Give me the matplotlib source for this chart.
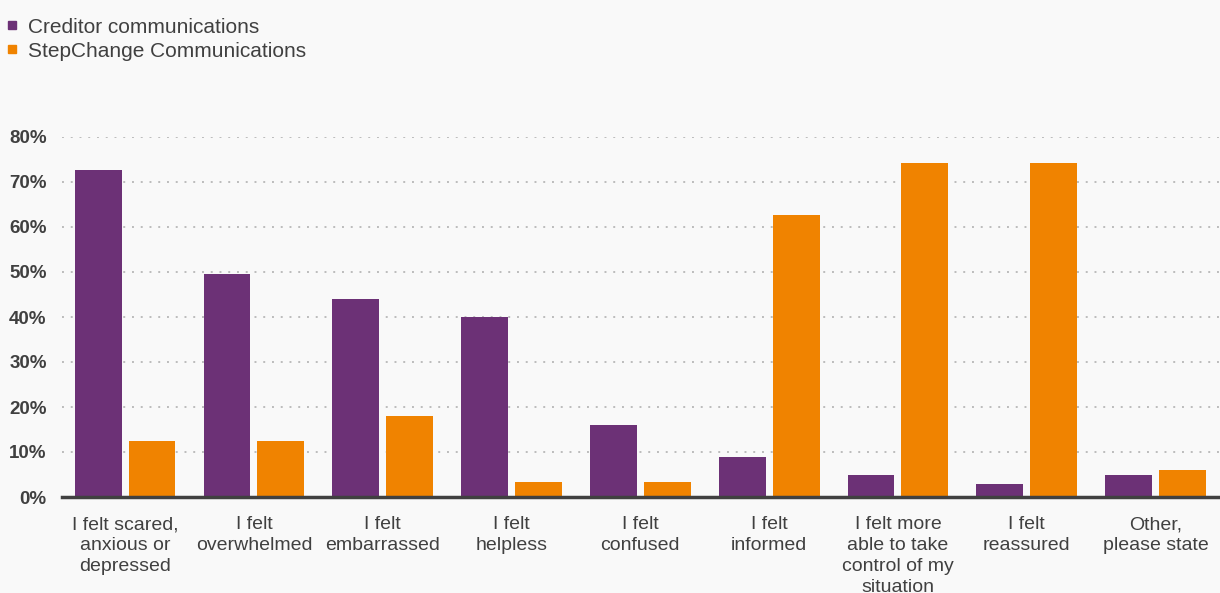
import matplotlib.pyplot as plt
import numpy as np
from matplotlib.lines import Line2D

plt.rcParams["font.family"] = ["Liberation Sans", "DejaVu Sans"]

categories = [
    "I felt scared,\nanxious or\ndepressed",
    "I felt\noverwhelmed",
    "I felt\nembarrassed",
    "I felt\nhelpless",
    "I felt\nconfused",
    "I felt\ninformed",
    "I felt more\nable to take\ncontrol of my\nsituation",
    "I felt\nreassured",
    "Other,\nplease state",
]
creditor = [72.6, 49.5, 44.0, 40.0, 16.0, 8.8, 4.8, 3.0, 4.8]
stepchange = [12.4, 12.4, 18.0, 3.3, 3.3, 62.6, 74.2, 74.2, 5.9]
series_names = ["Creditor communications", "StepChange Communications"]
yticks = [0, 10, 20, 30, 40, 50, 60, 70, 80]

purple = "#6c3176"
orange = "#f08300"
text_col = "#404040"
bg = "#f9f9f9"

fig = plt.figure(figsize=(12.2, 5.93), dpi=100, facecolor=bg)
ax = fig.add_axes([62 / 1220, 96 / 593, 1 - 62 / 1220, 360 / 593], facecolor=bg)

x = np.arange(len(categories))
w = 0.364
off = 0.209
ax.bar(x - off, creditor, w, color=purple, zorder=3)
ax.bar(x + off, stepchange, w, color=orange, zorder=3)

ax.set_xlim(-0.49, len(categories) - 0.5)
ax.set_ylim(0, 80)
ax.set_yticks(yticks)
ax.set_yticklabels([f"{t}%" for t in yticks], fontsize=13.5, fontweight="bold", color=text_col)
ax.set_xticks(x)
ax.set_xticklabels(categories, fontsize=14, color=text_col, linespacing=1.3)
ax.tick_params(axis="both", length=0)
ax.tick_params(axis="y", pad=11)
ax.tick_params(axis="x", pad=14)

ax.set_axisbelow(True)
ax.yaxis.grid(True, linestyle=(0, (1, 3.5)), color="#bcbcbc", linewidth=1.4)
for s in ["top", "right", "left"]:
    ax.spines[s].set_visible(False)
ax.spines["bottom"].set_color(text_col)
ax.spines["bottom"].set_linewidth(2.5)
ax.spines["bottom"].set_zorder(4)

handles = [
    Line2D([], [], marker="s", linestyle="", color=purple, markersize=6),
    Line2D([], [], marker="s", linestyle="", color=orange, markersize=6),
]
fig.legend(handles, series_names, loc="upper left", bbox_to_anchor=(-0.009, 0.995),
           frameon=False, fontsize=15, labelcolor=text_col, handletextpad=0.35,
           handlelength=0.8, borderaxespad=0.3, labelspacing=0.25)

fig.savefig("out.png", dpi=100, facecolor=bg)
